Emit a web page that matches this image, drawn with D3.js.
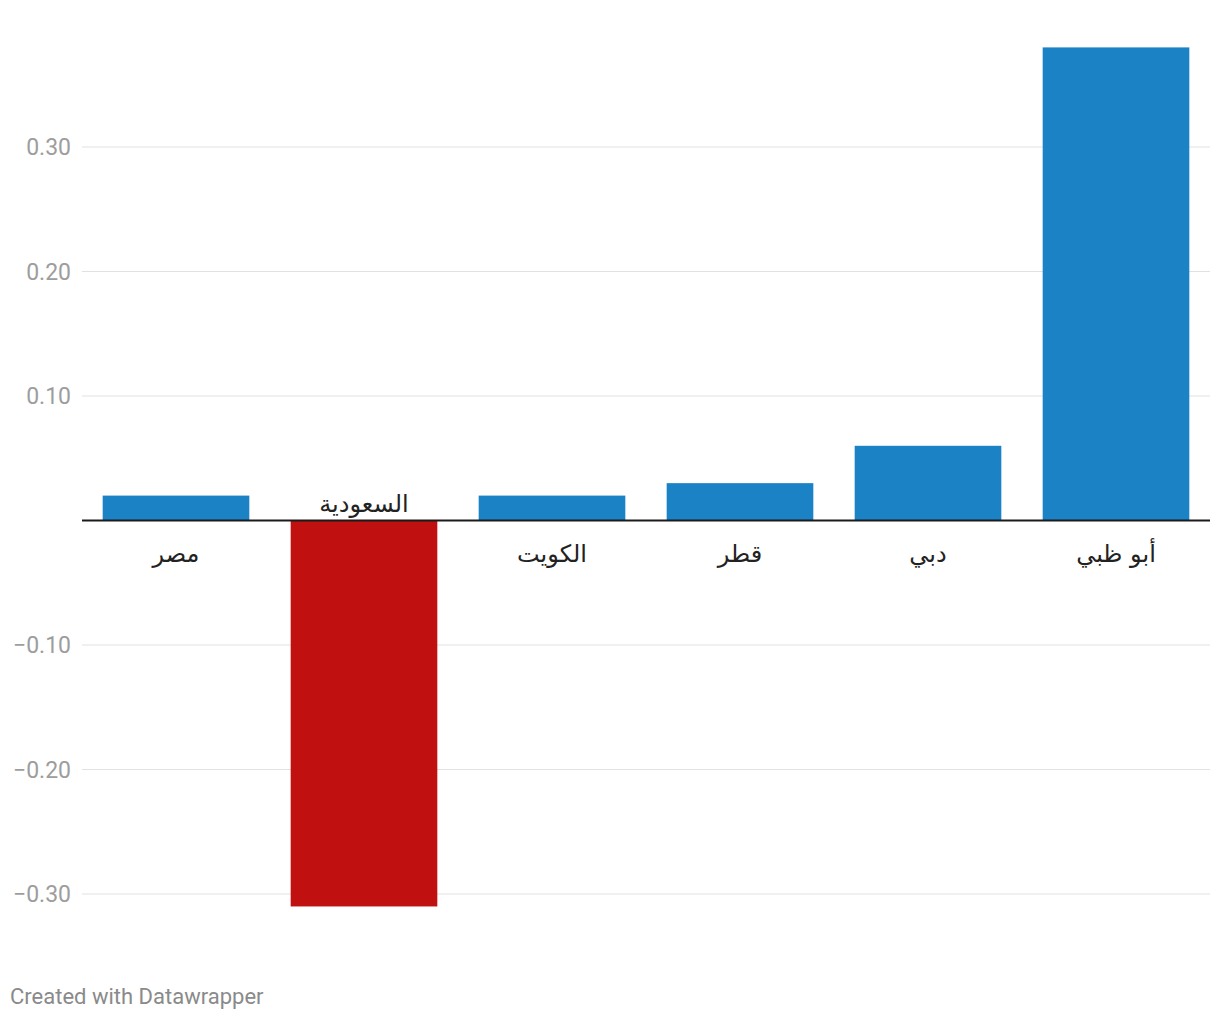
<!DOCTYPE html>
<html><head><meta charset="utf-8">
<script src="https://cdn.jsdelivr.net/npm/d3@7"></script>
<style>
html,body{margin:0;padding:0;background:#fff;}
svg{display:block;font-family:Roboto, "Noto Sans", sans-serif;}
</style></head>
<body><svg id="c" width="1220" height="1020"></svg>
<script>
const categories = ["مصر","السعودية","الكويت","قطر","دبي","أبو ظبي"];
const values = [0.02,-0.31,0.02,0.03,0.06,0.38];
const tickValues = [-0.3,-0.2,-0.1,0,0.1,0.2,0.3];
const tickLabels = ["−0.30","−0.20","−0.10","","0.10","0.20","0.30"];
const footer = "Created with Datawrapper";

const svg = d3.select("#c");
const left = 82, right = 1210;
const x = d3.scaleBand().domain(categories).range([left, right]).paddingInner(0.22).paddingOuter(0.11);
const y = d3.scaleLinear().domain([0, 0.1]).range([520.5, 396]);

// gridlines
svg.append("g").selectAll("line").data(tickValues.filter(d=>d!==0)).join("line")
  .attr("x1", left).attr("x2", right)
  .attr("y1", d=>y(d)).attr("y2", d=>y(d))
  .attr("stroke", "#e1e1e1").attr("stroke-width", 1.2);

// tick labels
svg.append("g").selectAll("text").data(tickValues).join("text")
  .attr("x", 71).attr("y", d=>y(d)).attr("dy", "0.35em")
  .attr("text-anchor", "end").attr("fill", "#9d9d9d").attr("font-size", 23)
  .text((d,i)=>tickLabels[i]);

// bars
svg.append("g").selectAll("rect").data(values).join("rect")
  .attr("x", (d,i)=>x(categories[i]))
  .attr("width", x.bandwidth())
  .attr("y", d=>y(Math.max(0,d)))
  .attr("height", d=>Math.abs(y(d)-y(0)))
  .attr("fill", d=> d<0 ? "#c0100f" : "#1b82c6");

// zero line
svg.append("line").attr("x1", left).attr("x2", right)
  .attr("y1", y(0)).attr("y2", y(0)).attr("stroke", "#1a1a1a").attr("stroke-width", 2);

// category labels
svg.append("g").selectAll("text").data(values).join("text")
  .attr("x", (d,i)=>x(categories[i]) + x.bandwidth()/2)
  .attr("y", d=> d<0 ? y(0)-9 : y(0)+41)
  .attr("text-anchor", "middle").attr("fill", "#222")
  .attr("font-size", 24).attr("font-family", "'DejaVu Sans', sans-serif")
  .attr("direction", "rtl")
  .text((d,i)=>categories[i]);

// footer
svg.append("text").attr("x", 10).attr("y", 1004).attr("fill", "#8a8a8a")
  .attr("font-size", 22).text(footer);
</script></body></html>
